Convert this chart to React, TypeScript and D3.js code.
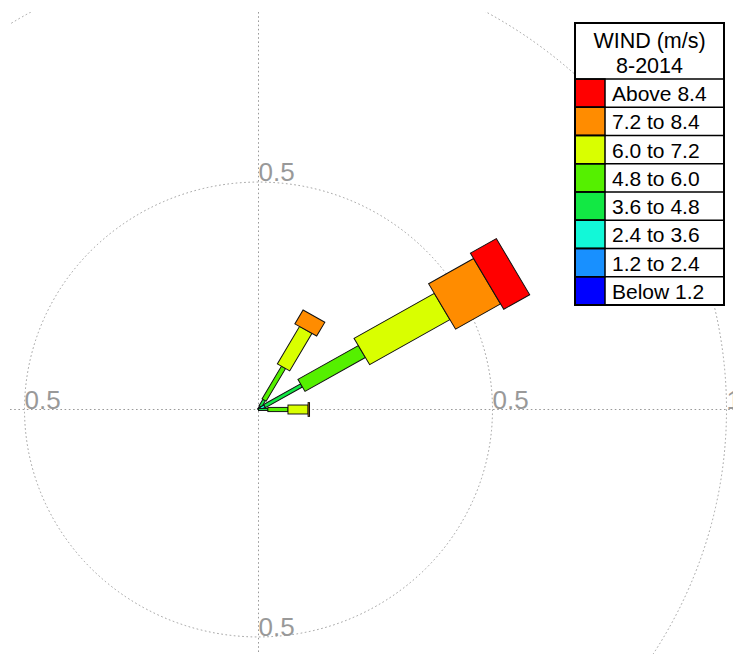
import React from "react";
import * as d3 from "d3";

// Petal directions (degrees clockwise from north)
const directions = [30, 60, 90];

// Frequency per speed class for each direction
const below12 = [0, 0, 0];
const s12to24 = [0, 0.005, 0];
const s24to36 = [0.008, 0.01, 0];
const s36to48 = [0.016, 0.091, 0.02];
const s48to60 = [0.083, 0.149, 0.043];
const s60to72 = [0.095, 0.198, 0.043];
const s72to84 = [0.035, 0.111, 0.003];
const above84 = [0, 0.064, 0];

const classSeries = [below12, s12to24, s24to36, s36to48, s48to60, s60to72, s72to84, above84];

// Legend labels, top to bottom (highest class first)
const legendLabels = [
  "Above 8.4",
  "7.2 to 8.4",
  "6.0 to 7.2",
  "4.8 to 6.0",
  "3.6 to 4.8",
  "2.4 to 3.6",
  "1.2 to 2.4",
  "Below 1.2",
];
const classColors = [
  "#0000FF",
  "#1890FF",
  "#12F8D8",
  "#12E844",
  "#55F000",
  "#D9FF00",
  "#FF8C00",
  "#FF0000",
];

const gridRings = [0.5, 1];
const ringLabels = ["0.5", "1"];
const legendTitle = ["WIND (m/s)", "8-2014"];

const W = 733;
const H = 654;
const cx = 258.5;
const cy = 409.5;
const yScale = 0.972;
const font = "Arial, 'Liberation Sans', Helvetica, sans-serif";

export default function App() {
  const r = d3.scaleLinear().domain([0, 1]).range([0, 468]);

  // Stack classes outward for each direction
  const petals = directions.map((dir, di) => {
    const vals = classSeries.map((s) => s[di]);
    const cum = d3.cumsum(vals);
    return vals
      .map((v, ci) => ({
        dir,
        ci,
        r0: r(cum[ci] - v),
        r1: r(cum[ci]),
        v,
      }))
      .filter((d) => d.v > 0);
  });

  // Ring labels at the four axis crossings, kept only where they fall inside the plot
  const labels = gridRings.flatMap((g, i) =>
    [0, 90, 180, 270].map((a) => {
      const rad = (a * Math.PI) / 180;
      return {
        key: `${g}-${a}`,
        text: ringLabels[i],
        x: cx + r(g) * Math.sin(rad),
        y: cy - r(g) * Math.cos(rad) * yScale,
      };
    })
  ).filter((d) => d.x >= 0 && d.x < W && d.y > 20 && d.y <= H);

  const lx = 575;
  const ly = 23;
  const lw = 149;
  const headerH = 56;
  const rowH = 28.25;
  const swW = 30;

  const dotted = { stroke: "#9a9a9a", strokeWidth: 1, strokeDasharray: "1.6 2.6", fill: "none" };

  return (
    <svg
      width={W}
      height={H}
      style={{ position: "absolute", left: 0, top: 0, background: "#fff" }}
      fontFamily={font}
    >
      <defs>
        <clipPath id="plotArea">
          <rect x={10} y={12} width={W - 10} height={H - 12} />
        </clipPath>
      </defs>
      <g clipPath="url(#plotArea)">
        {/* axes */}
        <line x1={10} x2={W} y1={cy} y2={cy} {...dotted} />
        <line x1={cx} x2={cx} y1={12} y2={H} {...dotted} />
        <g transform={`translate(${cx},${cy}) scale(1,${yScale})`}>
          {gridRings.map((g) => (
            <circle key={g} r={r(g)} {...dotted} />
          ))}
        </g>
      </g>
      <g transform={`translate(${cx},${cy}) scale(1,${yScale})`}>
        {petals.map((segs, pi) => (
          <g key={pi}>
            {segs.map((s) => {
              const w = 2 + 0.245 * s.r0;
              return (
                <rect
                  key={s.ci}
                  transform={`rotate(${s.dir})`}
                  x={-w / 2}
                  y={-s.r1}
                  width={w}
                  height={s.r1 - s.r0}
                  fill={classColors[s.ci]}
                  stroke="#111"
                  strokeWidth={1}
                />
              );
            })}
          </g>
        ))}
      </g>
      {/* ring labels */}
      {labels.map((d) => (
        <text key={d.key} x={d.x} y={d.y - 1} fontSize={26} fill="#999" textAnchor="start">
          {d.text}
        </text>
      ))}
      {/* legend */}
      <g>
        <rect x={lx} y={ly} width={lw} height={headerH + rowH * 8} fill="#fff" stroke="#000" strokeWidth={2} />
        {legendTitle.map((t, i) => (
          <text
            key={t}
            x={lx + lw / 2}
            y={ly + 25 + i * 25}
            textAnchor="middle"
            fontSize={21.5}
            fill="#000"
          >
            {t}
          </text>
        ))}
        {legendLabels.map((lab, i) => {
          const y0 = ly + headerH + i * rowH;
          return (
            <g key={lab}>
              <rect
                x={lx}
                y={y0}
                width={swW}
                height={rowH}
                fill={classColors[7 - i]}
                stroke="#000"
                strokeWidth={1.5}
              />
              <line x1={lx} x2={lx + lw} y1={y0} y2={y0} stroke="#000" strokeWidth={1.5} />
              <text x={lx + swW + 7} y={y0 + 22} fontSize={21} fill="#000">
                {lab}
              </text>
            </g>
          );
        })}
        <rect x={lx} y={ly} width={lw} height={headerH + rowH * 8} fill="none" stroke="#000" strokeWidth={2} />
      </g>
    </svg>
  );
}
